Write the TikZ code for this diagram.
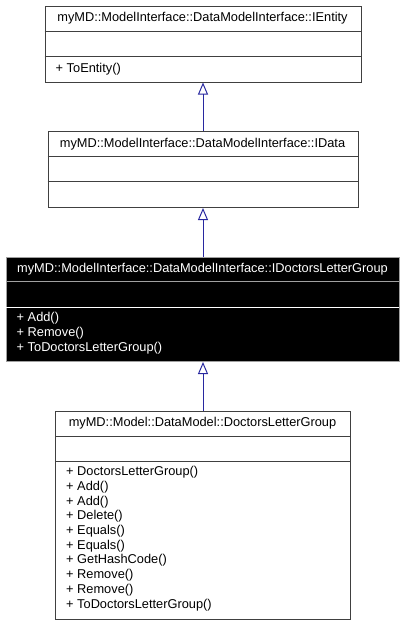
\documentclass[tikz,border=0pt]{standalone}
\usepackage{fontspec}
\setmainfont{Liberation Sans}
\usetikzlibrary{arrows.meta}
\definecolor{boxline}{HTML}{404040}
\definecolor{arrowc}{HTML}{2828A0}
\definecolor{sepgray}{HTML}{A0A0A0}
\tikzset{
  classbox/.style={draw=boxline, line width=1pt, fill=white},
  darkbox/.style={draw=sepgray, line width=1pt, fill=black},
  sepline/.style={draw=boxline, line width=1pt},
  txt/.style={inner sep=0pt, font=\fontsize{12.8}{14}\selectfont, text height=9pt, text depth=3pt},
  inherit/.style={draw=arrowc, line width=1pt, -{Triangle[open, width=10pt, length=12pt, line width=1pt]}},
}
\begin{document}
\begin{tikzpicture}[x=1pt, y=-1pt]
\useasboundingbox (0,0) rectangle (405,625);
% Box 1: IEntity
\node[classbox, minimum width=316pt, minimum height=76pt, inner sep=0pt, anchor=north west] (e) at (44.5,5.5) {};
\draw[sepline] (44.5,31.5) -- (360.5,31.5);
\draw[sepline] (44.5,56.5) -- (360.5,56.5);
\node[txt] (et) at (202.5,18.5) {myMD::ModelInterface::DataModelInterface::IEntity};
\node[txt, anchor=west] (em1) at (55.5,69) {+ ToEntity()};
% Box 2: IData
\node[classbox, minimum width=310pt, minimum height=76pt, inner sep=0pt, anchor=north west] (d) at (47.5,131) {};
\draw[sepline] (47.5,156.5) -- (357.5,156.5);
\draw[sepline] (47.5,181.5) -- (357.5,181.5);
\node[txt] (dt) at (202.5,144) {myMD::ModelInterface::DataModelInterface::IData};
% Box 3: IDoctorsLetterGroup
\node[darkbox, minimum width=393pt, minimum height=104pt, inner sep=0pt, anchor=north west] (g) at (6,257) {};
\draw[draw=sepgray, line width=1pt] (6,281.5) -- (399,281.5);
\draw[draw=white, line width=1pt] (6,307) -- (399,307);
\node[txt, text=white] (gt) at (202.5,269) {myMD::ModelInterface::DataModelInterface::IDoctorsLetterGroup};
\foreach \t [count=\i from 0] in {+ Add(), + Remove(), + ToDoctorsLetterGroup()}
  \node[txt, text=white, anchor=west] (gm\i) at (16.5,318.3+15*\i) {\t};
% Box 4: DoctorsLetterGroup
\node[classbox, minimum width=295pt, minimum height=208pt, inner sep=0pt, anchor=north west] (c) at (55,411) {};
\draw[sepline] (55,436.5) -- (350,436.5);
\draw[sepline] (55,461.5) -- (350,461.5);
\node[txt] (ct) at (202.5,423.5) {myMD::Model::DataModel::DoctorsLetterGroup};
\foreach \t [count=\i from 0] in {+ DoctorsLetterGroup(), + Add(), + Add(), + Delete(), + Equals(), + Equals(), + GetHashCode(), + Remove(), + Remove(), + ToDoctorsLetterGroup()}
  \node[txt, anchor=west] (cm\i) at (66,472.7+14.7*\i) {\t};
% Inheritance arrows
\draw[inherit] (d.north) -- (e.south);
\draw[inherit] (g.north) -- (d.south);
\draw[inherit] (c.north) -- (g.south);
\end{tikzpicture}
\end{document}
